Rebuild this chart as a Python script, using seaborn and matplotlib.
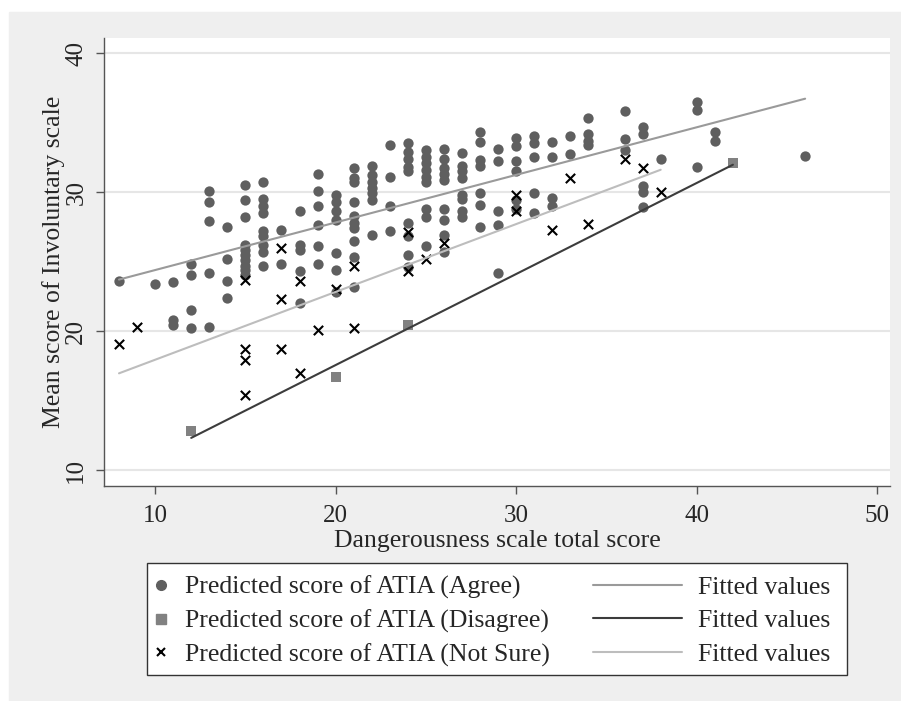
import matplotlib
matplotlib.use("Agg")
import matplotlib.pyplot as plt
import numpy as np
import pandas as pd
import seaborn as sns
from matplotlib.lines import Line2D
from matplotlib.patches import Rectangle

# Agree group: dangerousness score -> predicted involuntary score
AGREE_X = [8, 10, 11, 11, 11, 12, 12, 12, 12, 13, 13, 13, 13, 13, 14, 14, 14, 14,
           15, 15, 15, 15, 15, 15, 15, 15, 15, 15,
           16, 16, 16, 16, 16, 16, 16, 16, 16,
           17, 17, 18, 18, 18, 18, 18, 19, 19, 19, 19, 19, 19,
           20, 20, 20, 20, 20, 20, 20,
           21, 21, 21, 21, 21, 21, 21, 21, 21, 21,
           22, 22, 22, 22, 22, 22, 22, 23, 23, 23, 23,
           24, 24, 24, 24, 24, 24, 24, 24, 24,
           25, 25, 25, 25, 25, 25, 25, 25, 25,
           26, 26, 26, 26, 26, 26, 26, 26, 26,
           27, 27, 27, 27, 27, 27, 27, 27,
           28, 28, 28, 28, 28, 28, 28, 29, 29, 29, 29, 29,
           30, 30, 30, 30, 30, 30, 31, 31, 31, 31, 31, 32, 32, 32, 32,
           33, 33, 34, 34, 34, 34, 36, 36, 36, 37, 37, 37, 37, 37,
           38, 40, 40, 40, 41, 41, 46]
AGREE_Y = [23.6, 23.4, 23.5, 20.8, 20.4, 24.8, 24.0, 21.5, 20.2, 30.1, 29.3, 27.9, 24.2, 20.3,
           27.5, 25.2, 23.6, 22.4,
           30.5, 29.4, 28.2, 26.2, 25.8, 25.5, 25.1, 24.7, 24.4, 24.0,
           30.7, 29.5, 29.0, 28.5, 27.2, 26.8, 26.2, 25.7, 24.7,
           27.3, 24.8, 28.6, 26.2, 25.8, 24.3, 22.0, 31.3, 30.1, 29.0, 27.6, 26.1, 24.8,
           29.8, 29.3, 28.6, 28.0, 25.6, 24.4, 22.8,
           31.7, 31.0, 30.7, 29.3, 28.3, 27.8, 27.4, 26.5, 25.3, 23.2,
           31.9, 31.2, 30.7, 30.3, 29.9, 29.4, 26.9, 33.4, 31.1, 29.0, 27.2,
           33.5, 32.9, 32.4, 31.8, 31.5, 27.8, 26.8, 25.5, 24.6,
           33.0, 32.5, 32.1, 31.6, 31.1, 30.7, 28.8, 28.2, 26.1,
           33.1, 32.4, 31.7, 31.3, 30.9, 28.8, 28.0, 26.9, 25.7,
           32.8, 31.9, 31.5, 31.0, 29.8, 29.5, 28.6, 28.2,
           34.3, 33.6, 32.3, 31.9, 29.9, 29.1, 27.5, 33.1, 32.2, 28.6, 27.6, 24.2,
           33.9, 33.3, 32.2, 31.5, 29.4, 28.8, 34.0, 33.5, 32.5, 29.9, 28.5, 33.6, 32.5, 29.6, 29.0,
           34.0, 32.7, 35.3, 34.2, 33.7, 33.4, 35.8, 33.8, 33.0, 34.7, 34.2, 30.4, 30.0, 28.9,
           32.4, 36.5, 35.9, 31.8, 34.3, 33.7, 32.6]

DISAGREE_X = [12, 20, 24, 42]
DISAGREE_Y = [12.8, 16.7, 20.4, 32.1]

NOTSURE_X = [8, 9, 15, 15, 15, 15, 17, 17, 17, 18, 18, 19, 20, 21, 21,
             24, 24, 25, 26, 30, 30, 32, 33, 34, 36, 37, 38]
NOTSURE_Y = [19.1, 20.3, 23.7, 18.7, 17.9, 15.4, 26.0, 22.3, 18.7, 23.6, 17.0, 20.1, 23.0, 24.7, 20.2,
             27.1, 24.3, 25.2, 26.3, 29.8, 28.6, 27.3, 31.0, 27.7, 32.4, 31.7, 30.0]

LABELS = ["Predicted score of ATIA (Agree)",
          "Predicted score of ATIA (Disagree)",
          "Predicted score of ATIA (Not Sure)"]

W, H = 901, 701

sns.set_style("white")
plt.rcParams["font.family"] = ["Liberation Serif", "DejaVu Serif"]

fig = plt.figure(figsize=(W / 100, H / 100), dpi=100)
fig.patches.append(Rectangle((9 / W, 0), 1, 689 / H, transform=fig.transFigure,
                             color="#efefef", zorder=-10))
ax = fig.add_axes([104 / W, 1 - 486 / H, 786 / W, 448 / H])
ax.set_facecolor("white")

groups = [
    (AGREE_X, AGREE_Y, "o", "#5f5f5f", "#9a9a9a", 55),
    (DISAGREE_X, DISAGREE_Y, "s", "#818181", "#3c3c3c", 60),
    (NOTSURE_X, NOTSURE_Y, "x", "black", "#bdbdbd", 45),
]

for gx, gy, mk, col, _, size in groups:
    df = pd.DataFrame({"x": gx, "y": gy})
    lw = 1.5 if mk == "x" else 0
    sns.scatterplot(data=df, x="x", y="y", marker=mk, color=col, s=size,
                    linewidth=lw, ax=ax, zorder=3)

for gx, gy, _, _, lcol, _ in groups:
    df = pd.DataFrame({"x": gx, "y": gy})
    sns.regplot(data=df, x="x", y="y", scatter=False, ci=None, ax=ax,
                line_kws={"color": lcol, "lw": 1.5, "zorder": 4})

ax.set_xlim(7.17, 50.7)
ax.set_ylim(8.85, 41.08)
ax.set_xticks([10, 20, 30, 40, 50])
ax.set_yticks([10, 20, 30, 40])
ax.grid(axis="y", color="#e6e6e6", lw=1.5)
ax.set_axisbelow(True)
for s in ["top", "right"]:
    ax.spines[s].set_visible(False)
for s in ["left", "bottom"]:
    ax.spines[s].set_color("#555555")
    ax.spines[s].set_linewidth(1.0)
ax.tick_params(axis="both", direction="out", length=6, width=1, color="#555555",
               labelsize=18, bottom=True, left=True)
ax.tick_params(axis="x", pad=8)
ax.tick_params(axis="y", pad=6)
for lab in ax.get_yticklabels():
    lab.set_rotation(90)
    lab.set_va("center")
ax.set_xlabel("Dangerousness scale total score", fontsize=18.5, labelpad=2)
ax.set_ylabel("Mean score of Involuntary scale", fontsize=18.5, labelpad=0)

# legend: frame + marker column + fitted-line column
fig.patches.append(Rectangle((147 / W, 1 - 675 / H), 700 / W, 112 / H,
                             transform=fig.transFigure, facecolor="white",
                             edgecolor="#333333", lw=1.0, zorder=1))
pt_handles = [
    Line2D([], [], ls="none", marker="o", color="#5f5f5f", markersize=7),
    Line2D([], [], ls="none", marker="s", color="#818181", markersize=7),
    Line2D([], [], ls="none", marker="x", color="black", markersize=6, mew=1.5),
]
ln_handles = [
    Line2D([], [], color="#9a9a9a", lw=1.5),
    Line2D([], [], color="#3c3c3c", lw=1.5),
    Line2D([], [], color="#bdbdbd", lw=1.5),
]
common = dict(loc="upper left", frameon=False, fontsize=18.5, borderpad=0,
              borderaxespad=0, labelspacing=0.4)
leg1 = fig.legend(pt_handles, LABELS, bbox_to_anchor=(150.7 / W, 1 - 576 / H),
                  handlelength=0.8, handletextpad=0.53, **common)
leg2 = fig.legend(ln_handles, ["Fitted values"] * 3, bbox_to_anchor=(593 / W, 1 - 576 / H),
                  handlelength=3.46, handletextpad=0.62, **common)

fig.savefig("out.png", dpi=100, facecolor="white")
